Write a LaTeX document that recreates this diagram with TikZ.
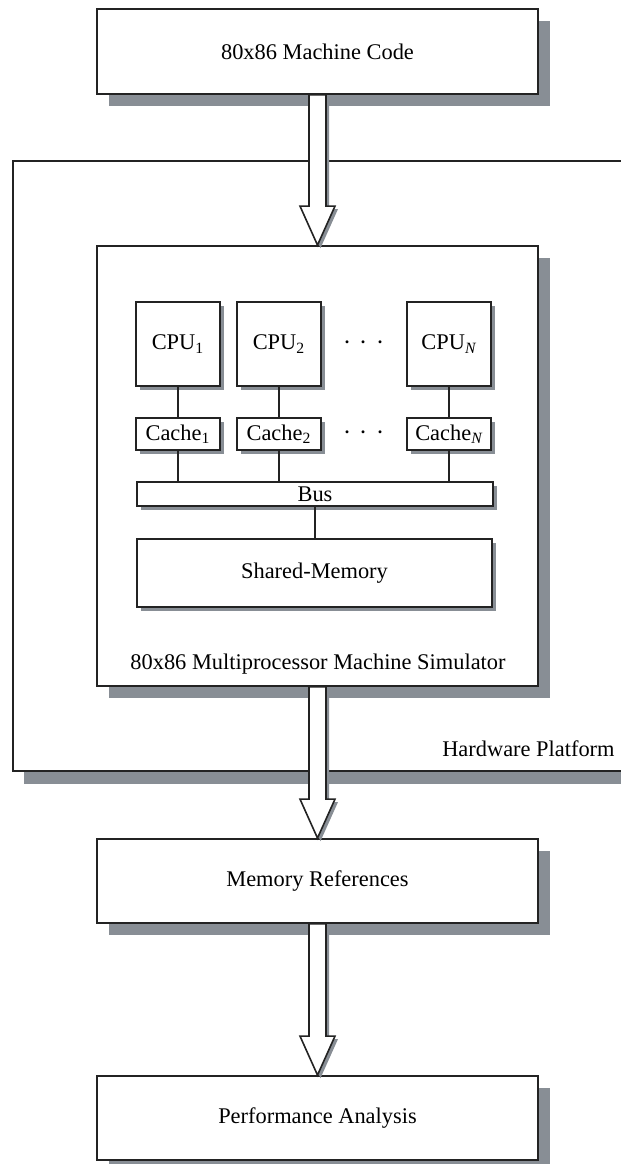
\documentclass[tikz,border=0pt]{standalone}
\usepackage{fontspec}
\setmainfont{Liberation Serif}
\usetikzlibrary{calc,shadows}

\definecolor{shadowgray}{RGB}{136,142,149}
\definecolor{linegray}{RGB}{35,35,35}

\tikzset{
  box/.style={draw=linegray, line width=0.9pt, fill=white, inner sep=0pt,
    font=\fontsize{11.2pt}{13pt}\selectfont},
  bigbox/.style={box, minimum width=220.5pt, minimum height=42.5pt,
    drop shadow={fill=shadowgray, opacity=1, shadow xshift=6pt, shadow yshift=-6pt}},
  smallbox/.style={box, line width=0.8pt,
    drop shadow={fill=shadowgray, opacity=1, shadow xshift=1.75pt, shadow yshift=-1.75pt}},
  cpubox/.style={smallbox, minimum width=42pt, minimum height=42pt},
  cachebox/.style={smallbox, minimum width=42pt, minimum height=16pt},
  wire/.style={draw=linegray, line width=0.7pt},
  arrowbody/.style={draw=linegray, line width=0.8pt, fill=white, line join=miter},
  label/.style={inner sep=0pt, font=\fontsize{11.2pt}{13pt}\selectfont}
}

% hollow block arrow from the bottom of #1 to the top of #2
\newcommand{\arrowpath}[4]{%
  ($(#1.south)+(-4.25pt+#3,#4)$) -- ($(#2.north)+(-4.25pt+#3,19.5pt+#4)$)
  -- ++(-4.5pt,0) -- ($(#2.north)+(#3,#4)$) -- ($(#2.north)+(8.75pt+#3,19.5pt+#4)$)
  -- ++(-4.5pt,0) -- ($(#1.south)+(4.25pt+#3,#4)$) -- cycle}
\newcommand{\fatarrow}[2]{%
  \fill[shadowgray] \arrowpath{#1}{#2}{1.5pt}{-1.5pt};
  \draw[arrowbody] \arrowpath{#1}{#2}{0pt}{0pt};}

\begin{document}
\begin{tikzpicture}[x=0.5pt,y=-0.5pt]

\useasboundingbox (0,0) rectangle (621,1164);

% outer frame
\node[box, minimum width=313.5pt, minimum height=305pt,
  drop shadow={fill=shadowgray, opacity=1, shadow xshift=5.5pt, shadow yshift=-6.5pt}]
  (platform) at (326.5,466) {};
\node[label, anchor=east] (platformlabel) at (615,749) {Hardware Platform};

\node[bigbox] (code) at (317.5,51.5) {80x86 Machine Code};

% the simulator
\node[bigbox, minimum height=220pt] (sim) at (317.5,466) {};
\node[label] (simlabel) at (318,664) {80x86 Multiprocessor Machine Simulator};

\node[cpubox] (cpu1) at (178,344) {CPU\textsubscript{1}};
\node[cpubox] (cpu2) at (279,344) {CPU\textsubscript{2}};
\node[cpubox] (cpuN) at (449,344) {CPU\textsubscript{\itshape N}};
\node[label, font=\fontsize{15pt}{15pt}\selectfont] (cpudots) at (364,343)
  {$\cdot$\hspace{4.3pt}$\cdot$\hspace{4.3pt}$\cdot$};

\node[cachebox] (cache1) at (178,434) {Cache\textsubscript{1}};
\node[cachebox] (cache2) at (279,434) {Cache\textsubscript{2}};
\node[cachebox] (cacheN) at (449,434) {Cache\textsubscript{\itshape N}};
\node[label, font=\fontsize{15pt}{15pt}\selectfont] (cachedots) at (364,433)
  {$\cdot$\hspace{4.3pt}$\cdot$\hspace{4.3pt}$\cdot$};

\node[smallbox, minimum width=178pt, minimum height=12pt] (bus) at (315,494) {Bus};
\node[smallbox, minimum width=177.5pt, minimum height=34pt] (mem) at (314.5,573) {Shared-Memory};

\foreach \i in {1,2,N}{
  \draw[wire] (cpu\i) -- (cache\i);
  \draw[wire] (cache\i.south) -- (cache\i.south |- bus.north);
}
\draw[wire] (bus.south) -- (bus.south |- mem.north);

\node[bigbox, minimum height=42pt] (refs) at (317.5,881) {Memory References};
\node[bigbox, minimum height=42pt] (perf) at (317.5,1118) {Performance Analysis};

\fatarrow{code}{sim}
\fatarrow{sim}{refs}
\fatarrow{refs}{perf}

\end{tikzpicture}
\end{document}
